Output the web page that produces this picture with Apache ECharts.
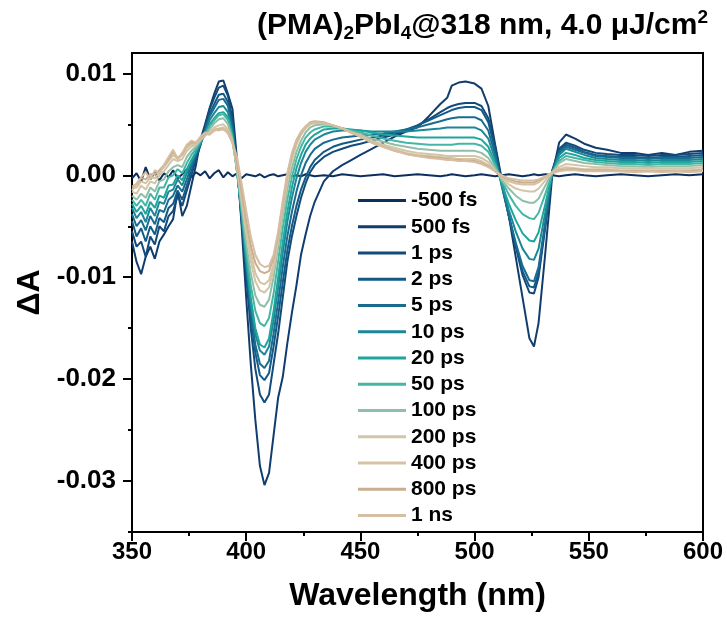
<!DOCTYPE html>
<html>
<head>
<meta charset="utf-8">
<script src="https://cdn.jsdelivr.net/npm/echarts@6.0.0/dist/echarts.min.js"></script>
<style>
  html, body { margin: 0; padding: 0; background: #fff; }
  #chart { width: 727px; height: 620px; }
</style>
</head>
<body>
<div id="chart"></div>
<script>
// wavelength grid (nm), shared by every spectrum
const wavelength = [
  350, 352, 354, 356, 358, 360, 362, 364, 366, 368, 370, 372, 374, 376, 378, 380, 382, 384, 386, 388, 390, 392, 394, 396, 398, 400,
  402, 404, 406, 408, 410, 412, 414, 416, 418, 420, 422, 424, 426, 428, 430,
  434, 438, 442, 446, 450,
  455, 460, 465, 470, 475, 480, 485,
  488, 490, 493, 496, 500, 503, 506, 509, 512, 515, 518, 521, 524, 526, 528, 531, 534, 537, 540,
  544, 548, 553, 558, 564, 570, 576, 582, 588, 594, 600,
];

// delta A in units of 1e-3, one array per delay
const fsNeg500 = [
  -0.3, 0.2, -0.6, 0.8, -0.4, 0.3, -0.5, 0.2, -0.2, 0.5, -0.3, 0.1, 0.6, -0.2, 0.3, 0.0, 0.4, -0.3, 0.2, 0.5, -0.2, 0.3, -0.1, 0.2, -0.3, 0.1,
  0.0, -0.1, 0.1, -0.2, 0.0, 0.1, -0.1, 0.0, 0.1, -0.1, 0.0, -0.1, 0.1, 0.0, -0.1,
  0.0, -0.1, 0.1, 0.0, -0.1,
  0.0, 0.1, -0.1, 0.0, 0.1, 0.0, -0.1,
  0.0, 0.1, 0.0, -0.1, 0.0, 0.1, 0.0, -0.1, 0.0, 0.1, 0.0, -0.1, 0.0, 0.1, 0.0, 0.1, 0.0, -0.1, 0.0,
  0.1, 0.0, -0.1, 0.0, 0.1, 0.0, -0.1, 0.0, 0.1, 0.0, 0.1,
];
const fs500 = [
  -6.5, -8.5, -9.7, -8.0, -7.0, -8.2, -6.5, -5.8, -5.0, -4.3, -1.5, -4.0, -3.0, -1.0, 1.0, 3.5, 5.0, 6.6, 8.0, 9.2, 9.3, 8.0, 6.5, 1.5, -5.0, -12.0,
  -18.5, -24.0, -28.5, -30.4, -29.2, -25.5, -21.8, -19.8, -16.5, -13.5, -10.8, -7.8, -5.8, -4.0, -2.6,
  -0.6, 0.4, 1.0, 1.5, 2.0,
  2.6, 3.2, 3.8, 4.3, 4.7, 5.8, 7.0,
  7.6, 8.8, 9.1, 9.2, 9.0, 8.5, 6.8, 3.0, -0.5, -4.0, -8.0, -12.0, -16.0, -16.8, -14.5, -7.5, 0.0, 3.2, 4.0,
  3.6, 3.1, 2.7, 2.5, 2.2, 2.2, 2.0, 2.2, 2.0, 2.3, 2.4,
];
const ps1 = [
  -5.5, -7.0, -6.5, -8.0, -6.0, -6.8, -5.0, -5.5, -4.0, -3.5, -2.0, -3.0, -1.5, 0.0, 1.5, 3.0, 4.8, 6.5, 7.6, 8.6, 8.8, 7.8, 5.5, 1.0, -4.5, -10.0,
  -15.0, -19.0, -21.5, -22.3, -21.5, -18.5, -15.5, -12.0, -8.5, -6.0, -4.0, -2.2, -0.8, 0.3, 1.0,
  1.8, 2.3, 2.6, 2.9, 3.1,
  3.4, 3.7, 4.0, 4.4, 4.9, 5.5, 6.2,
  6.6, 6.8, 7.0, 7.1, 7.1, 6.8, 5.6, 2.8, -0.8, -4.0, -7.0, -9.8, -11.5, -11.6, -10.0, -5.0, 0.5, 2.6, 3.2,
  2.9, 2.5, 2.2, 2.1, 2.0, 2.0, 1.9, 2.0, 2.0, 2.1, 2.2,
];
const ps2 = [
  -4.5, -6.0, -5.2, -6.5, -5.0, -5.8, -4.2, -4.6, -3.2, -2.8, -1.5, -2.4, -1.0, 0.4, 1.8, 3.0, 4.5, 6.0, 7.0, 7.9, 8.0, 7.2, 5.0, 0.8, -4.2, -9.2,
  -13.8, -17.4, -19.6, -20.1, -19.4, -16.8, -13.8, -10.5, -7.4, -5.0, -3.0, -1.4, -0.2, 0.8, 1.5,
  2.3, 2.8, 3.1, 3.3, 3.5,
  3.7, 3.9, 4.2, 4.5, 4.9, 5.4, 5.9,
  6.2, 6.4, 6.6, 6.7, 6.7, 6.4, 5.2, 2.5, -1.0, -4.0, -6.8, -9.4, -10.9, -11.0, -9.5, -4.8, 0.4, 2.4, 3.0,
  2.7, 2.3, 2.0, 1.9, 1.8, 1.8, 1.7, 1.8, 1.8, 1.9, 2.0,
];
const ps5 = [
  -3.8, -5.0, -4.4, -5.4, -4.0, -4.8, -3.4, -3.6, -2.4, -2.0, -1.0, -1.6, -0.4, 0.9, 2.0, 3.2, 4.4, 5.8, 6.6, 7.4, 7.5, 6.8, 4.6, 0.6, -4.0, -8.8,
  -13.2, -16.6, -18.5, -18.9, -18.2, -15.5, -12.4, -9.0, -6.0, -3.6, -1.6, 0.0, 1.2, 2.0, 2.6,
  3.2, 3.5, 3.7, 3.8, 3.9,
  4.0, 4.1, 4.3, 4.5, 4.7, 5.0, 5.3,
  5.5, 5.6, 5.7, 5.7, 5.7, 5.4, 4.4, 2.0, -1.2, -4.0, -6.6, -8.9, -10.3, -10.4, -9.0, -4.5, 0.3, 2.2, 2.8,
  2.5, 2.2, 1.9, 1.8, 1.7, 1.7, 1.6, 1.7, 1.7, 1.7, 1.8,
];
const ps10 = [
  -3.2, -4.2, -3.6, -4.6, -3.2, -4.0, -2.6, -2.8, -1.6, -1.4, -0.4, -1.0, 0.2, 1.2, 2.2, 3.2, 4.2, 5.4, 6.1, 6.7, 6.8, 6.2, 4.2, 0.4, -3.8, -8.4,
  -12.6, -15.6, -17.2, -17.6, -16.8, -14.2, -11.0, -7.6, -4.6, -2.2, -0.3, 1.2, 2.3, 3.0, 3.5,
  4.0, 4.3, 4.4, 4.4, 4.4,
  4.3, 4.3, 4.3, 4.3, 4.4, 4.5, 4.6,
  4.7, 4.7, 4.7, 4.7, 4.7, 4.4, 3.6, 1.6, -1.0, -3.4, -5.5, -7.2, -8.2, -8.3, -7.2, -3.6, 0.3, 2.0, 2.6,
  2.3, 2.0, 1.7, 1.6, 1.5, 1.5, 1.4, 1.5, 1.5, 1.5, 1.6,
];
const ps20 = [
  -2.8, -3.6, -3.0, -3.8, -2.6, -3.2, -2.0, -2.2, -1.0, -0.9, 0.0, -0.5, 0.6, 1.5, 2.3, 3.2, 4.0, 5.0, 5.6, 6.1, 6.2, 5.7, 3.9, 0.3, -3.6, -8.0,
  -12.0, -15.0, -16.6, -16.9, -16.0, -13.3, -10.0, -6.6, -3.6, -1.2, 0.7, 2.0, 3.0, 3.6, 4.0,
  4.5, 4.6, 4.6, 4.5, 4.4,
  4.2, 4.0, 3.9, 3.8, 3.7, 3.7, 3.7,
  3.7, 3.7, 3.7, 3.7, 3.7, 3.5, 2.8, 1.2, -0.9, -2.8, -4.4, -5.7, -6.4, -6.5, -5.6, -2.8, 0.2, 1.7, 2.2,
  2.0, 1.7, 1.5, 1.4, 1.3, 1.3, 1.2, 1.3, 1.3, 1.3, 1.4,
];
const ps50 = [
  -2.4, -3.0, -2.4, -3.0, -1.8, -2.4, -1.2, -1.2, -0.2, 0.0, 0.6, 0.2, 1.2, 2.0, 2.6, 3.4, 4.0, 4.8, 5.4, 5.9, 6.0, 5.4, 3.7, 0.3, -3.4, -7.4,
  -10.8, -13.3, -14.5, -14.8, -14.0, -11.6, -8.4, -5.2, -2.4, -0.2, 1.6, 2.8, 3.7, 4.2, 4.5,
  4.8, 4.8, 4.6, 4.4, 4.2,
  3.9, 3.6, 3.4, 3.2, 3.1, 3.0, 3.0,
  3.0, 3.0, 3.1, 3.1, 3.1, 2.9, 2.3, 1.0, -0.6, -1.9, -3.0, -3.8, -4.2, -4.3, -3.7, -1.8, 0.2, 1.4, 1.9,
  1.7, 1.5, 1.3, 1.2, 1.1, 1.1, 1.0, 1.1, 1.1, 1.1, 1.2,
];
const ps100 = [
  -2.0, -2.4, -1.8, -2.2, -1.2, -1.6, -0.6, -0.4, 0.4, 0.8, 1.0, 0.8, 1.8, 2.4, 2.8, 3.4, 3.9, 4.5, 5.1, 5.5, 5.6, 5.0, 3.5, 0.4, -3.0, -6.6,
  -9.6, -11.8, -12.7, -12.9, -12.2, -10.0, -7.0, -4.0, -1.4, 0.7, 2.3, 3.4, 4.2, 4.7, 4.9,
  5.0, 4.9, 4.6, 4.3, 4.0,
  3.6, 3.3, 3.0, 2.8, 2.6, 2.5, 2.4,
  2.4, 2.4, 2.4, 2.4, 2.4, 2.2, 1.7, 0.7, -0.5, -1.3, -2.0, -2.5, -2.7, -2.7, -2.3, -1.0, 0.3, 1.2, 1.6,
  1.4, 1.2, 1.1, 1.0, 0.9, 0.9, 0.8, 0.9, 0.9, 0.9, 1.0,
];
const ps200 = [
  -1.6, -1.8, -1.0, -1.4, -0.6, -0.8, 0.0, 0.4, 1.0, 1.6, 1.4, 1.6, 2.4, 2.8, 3.0, 3.5, 3.9, 4.2, 4.7, 4.9, 5.0, 4.5, 3.3, 0.6, -2.4, -5.6,
  -8.4, -10.4, -11.3, -11.5, -11.0, -9.2, -6.4, -3.4, -0.6, 1.5, 3.0, 4.0, 4.6, 5.0, 5.1,
  5.1, 4.9, 4.6, 4.2, 3.9,
  3.4, 3.0, 2.7, 2.4, 2.2, 2.1, 2.0,
  1.9, 1.9, 1.9, 1.9, 1.9, 1.7, 1.3, 0.5, -0.3, -0.9, -1.3, -1.5, -1.6, -1.6, -1.3, -0.5, 0.3, 0.8, 1.1,
  1.0, 0.9, 0.8, 0.8, 0.7, 0.7, 0.7, 0.7, 0.7, 0.7, 0.8,
];
const ps400 = [
  -1.3, -1.2, -0.6, -0.8, -0.2, -0.3, 0.3, 0.8, 1.4, 2.0, 1.6, 2.0, 2.7, 3.0, 3.1, 3.6, 4.0, 4.1, 4.5, 4.6, 4.7, 4.3, 3.2, 0.9, -2.0, -5.0,
  -7.6, -9.6, -10.5, -10.7, -10.3, -8.7, -6.1, -3.1, -0.3, 1.8, 3.2, 4.1, 4.7, 5.1, 5.2,
  5.1, 4.9, 4.6, 4.2, 3.9,
  3.3, 2.9, 2.5, 2.2, 2.0, 1.9, 1.8,
  1.7, 1.7, 1.6, 1.6, 1.6, 1.4, 1.0, 0.4, -0.2, -0.6, -0.8, -0.9, -0.9, -0.9, -0.7, -0.2, 0.3, 0.6, 0.8,
  0.7, 0.6, 0.6, 0.6, 0.5, 0.5, 0.5, 0.5, 0.5, 0.5, 0.6,
];
const ps800 = [
  -1.1, -0.9, -0.3, -0.4, 0.1, 0.1, 0.5, 1.0, 1.6, 2.3, 1.7, 2.1, 2.9, 3.2, 3.2, 3.7, 4.1, 4.0, 4.4, 4.5, 4.5, 4.2, 3.2, 1.2, -1.6, -4.4,
  -6.9, -8.6, -9.4, -9.6, -9.4, -8.1, -5.8, -2.8, 0.0, 2.0, 3.4, 4.2, 4.8, 5.2, 5.3,
  5.2, 4.9, 4.6, 4.2, 3.8,
  3.2, 2.8, 2.4, 2.1, 1.9, 1.8, 1.7,
  1.6, 1.5, 1.5, 1.4, 1.4, 1.2, 0.9, 0.4, -0.1, -0.4, -0.6, -0.7, -0.7, -0.7, -0.5, -0.1, 0.2, 0.5, 0.6,
  0.6, 0.5, 0.5, 0.5, 0.4, 0.4, 0.4, 0.4, 0.4, 0.4, 0.5,
];
const ns1 = [
  -1.5, -0.8, -0.2, 0.3, -0.4, 0.5, 0.2, 1.0, 1.8, 2.5, 1.6, 2.2, 3.0, 3.4, 3.2, 3.8, 4.2, 4.0, 4.5, 4.4, 4.6, 4.1, 3.2, 1.8, -0.8, -3.5,
  -6.0, -7.8, -8.7, -9.0, -8.9, -7.8, -5.5, -2.5, 0.2, 2.2, 3.5, 4.3, 4.8, 5.1, 5.2,
  5.1, 4.9, 4.6, 4.2, 3.8,
  3.2, 2.8, 2.4, 2.1, 1.9, 1.7, 1.6,
  1.5, 1.5, 1.4, 1.4, 1.3, 1.1, 0.8, 0.4, 0.0, -0.3, -0.4, -0.5, -0.5, -0.5, -0.4, -0.1, 0.2, 0.4, 0.5,
  0.5, 0.4, 0.4, 0.4, 0.4, 0.3, 0.4, 0.3, 0.4, 0.3, 0.4,
];

const delayLabels = ['-500 fs', '500 fs', '1 ps', '2 ps', '5 ps', '10 ps', '20 ps', '50 ps', '100 ps', '200 ps', '400 ps', '800 ps', '1 ns'];
const spectra = [fsNeg500, fs500, ps1, ps2, ps5, ps10, ps20, ps50, ps100, ps200, ps400, ps800, ns1];
const colors = ['#0c2f5e', '#103d6e', '#124a7a', '#145a86', '#186c8f', '#1b8797', '#1ea59c', '#45b6a5', '#8fbfa9',
  '#d2c6a8', '#d6c3a3', '#c8af91', '#d6bea2'];

const yMajor = [0.01, 0, -0.01, -0.02, -0.03];
const yMinor = [0.01, 0.005, 0, -0.005, -0.01, -0.015, -0.02, -0.025, -0.03, -0.035];

const FONT = 'Liberation Sans, Arial, sans-serif';

const chart = echarts.init(document.getElementById('chart'));

const series = spectra.map((vals, i) => ({
  name: delayLabels[i],
  type: 'line',
  xAxisIndex: 0,
  yAxisIndex: 0,
  symbol: 'none',
  showSymbol: false,
  data: wavelength.map((w, j) => [w, vals[j] * 1e-3]),
  lineStyle: { width: 2, color: colors[i] },
  itemStyle: { color: colors[i] },
}));

const axisLine = { show: true, onZero: false, lineStyle: { color: '#000', width: 2 } };

chart.setOption({
  animation: false,
  textStyle: { fontFamily: FONT },
  title: {
    text: '{a|(PMA)}{s|2}{a|PbI}{s|4}{a|@318 nm, 4.0 μJ/cm}{p|2}',
    right: 14,
    top: 3,
    textStyle: {
      rich: {
        a: { fontSize: 30, fontWeight: 'bold', color: '#000', fontFamily: FONT },
        s: { fontSize: 19, fontWeight: 'bold', color: '#000', fontFamily: FONT, padding: [16, 0, 0, 0] },
        p: { fontSize: 19, fontWeight: 'bold', color: '#000', fontFamily: FONT, padding: [0, 0, 16, 0] },
      },
    },
  },
  grid: {
    left: 132,
    right: 24,
    top: 53,
    bottom: 88,
    show: true,
    borderColor: '#000',
    borderWidth: 2,
  },
  legend: {
    orient: 'vertical',
    left: 353,
    top: 185,
    icon: 'rect',
    itemWidth: 48,
    itemHeight: 3,
    itemGap: 5.25,
    selectedMode: false,
    data: delayLabels,
    textStyle: { fontSize: 21, fontWeight: 'bold', color: '#000', lineHeight: 21, fontFamily: FONT },
  },
  xAxis: [
    {
      type: 'value', min: 350, max: 600, interval: 25, position: 'bottom',
      axisLine, axisTick: { length: 4, lineStyle: { width: 2, color: '#000' } },
      axisLabel: { show: false }, splitLine: { show: false },
    },
    {
      type: 'value', min: 350, max: 600, interval: 50, position: 'bottom',
      axisLine, axisTick: { length: 9, lineStyle: { width: 2, color: '#000' } },
      axisLabel: { fontSize: 24, fontWeight: 'bold', color: '#000', margin: 8, fontFamily: FONT },
      splitLine: { show: false },
      name: 'Wavelength (nm)', nameLocation: 'middle', nameGap: 48,
      nameTextStyle: { fontSize: 32, fontWeight: 'bold', color: '#000', fontFamily: FONT },
    },
  ],
  yAxis: [
    {
      type: 'value', min: -0.035, max: 0.012, position: 'left',
      axisLine,
      axisTick: { length: 4, customValues: yMinor, lineStyle: { width: 2, color: '#000' } },
      axisLabel: { show: false }, splitLine: { show: false },
    },
    {
      type: 'value', min: -0.035, max: 0.012, position: 'left',
      axisLine,
      axisTick: { length: 9, customValues: yMajor, lineStyle: { width: 2, color: '#000' } },
      axisLabel: {
        customValues: yMajor,
        formatter: v => v.toFixed(2),
        fontSize: 26, fontWeight: 'bold', color: '#000', margin: 16, fontFamily: FONT,
      },
      splitLine: { show: false },
      name: 'ΔA', nameLocation: 'middle', nameGap: 84,
      nameTextStyle: { fontSize: 32, fontWeight: 'bold', color: '#000', fontFamily: FONT },
    },
  ],
  series,
});
</script>
</body>
</html>
